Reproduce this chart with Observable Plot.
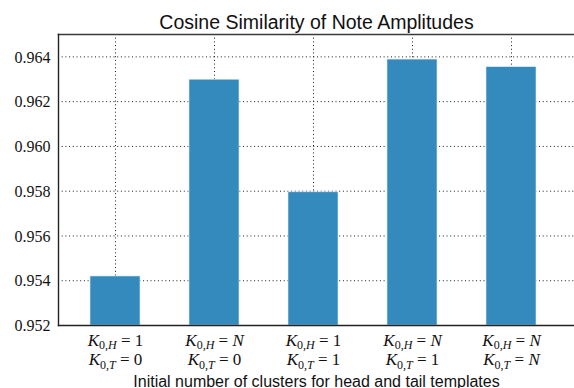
<!DOCTYPE html>
<html>
<head>
<meta charset="utf-8">
<script src="https://cdn.jsdelivr.net/npm/d3@7"></script>
<script src="https://cdn.jsdelivr.net/npm/@observablehq/plot@0.6"></script>
<style>
  html, body { margin: 0; padding: 0; background: #fff; overflow: hidden; }
  #chart svg { display: block; }
  #chart g.yticks text, #chart g.xticks text { font-family: "Liberation Serif", "Times New Roman", serif !important; }
  #chart g.sanstext text { font-family: "Liberation Sans", Arial, Helvetica, sans-serif !important; }
</style>
</head>
<body>
<div id="chart"></div>
<script>
const categories = ["H1T0", "HNT0", "H1T1", "HNT1", "HNTN"];
const headK = ["1", "N", "1", "N", "N"];
const tailK = ["0", "0", "1", "1", "N"];
const values = [0.95419, 0.96298, 0.95795, 0.96388, 0.96354];
const yTicks = [0.952, 0.954, 0.956, 0.958, 0.960, 0.962, 0.964];
const yDomain = [0.952, 0.965];
const title = "Cosine Similarity of Note Amplitudes";
const xLabel = "Initial number of clusters for head and tail templates";

const data = categories.map((c, i) => ({cat: c, value: values[i]}));

const serif = "Liberation Serif, Times New Roman, serif";
const sans = "Liberation Sans, Arial, Helvetica, sans-serif";
const gridStyle = {stroke: "#000", strokeOpacity: 1, strokeWidth: 0.9, strokeDasharray: "1,2.7"};

const chart = Plot.plot({
  width: 574,
  height: 388,
  marginTop: 34,
  marginBottom: 63,
  marginLeft: 58,
  marginRight: 0,
  style: {background: "#fff"},
  x: {domain: categories, range: [63.75, 561.25], paddingInner: 0.5, paddingOuter: 0.25, align: 0.5, axis: null},
  y: {domain: yDomain, axis: null},
  marks: [
    Plot.gridY(yTicks, gridStyle),
    Plot.gridX(categories, gridStyle),
    Plot.barY(data, {x: "cat", y1: yDomain[0], y2: "value", fill: "#348ABD", stroke: "#dce9f4", strokeWidth: 0.6}),
    Plot.text(yTicks, {y: d => d, text: d3.format(".3f"), frameAnchor: "left", textAnchor: "end", dx: -8, dy: 0.5, fontSize: 16, fontFamily: serif, fill: "#111", className: "yticks"}),
    Plot.frame({anchor: "top", stroke: "#3a3a3a", strokeWidth: 1.6}),
    Plot.frame({anchor: "bottom", stroke: "#222", strokeWidth: 1.4}),
    Plot.frame({anchor: "left", stroke: "#222", strokeWidth: 1.4}),
    Plot.text(categories, {x: d => d, text: d => d, frameAnchor: "bottom", lineAnchor: "bottom", fontSize: 17, fontFamily: serif, fill: "#111", className: "xticks"}),
    Plot.text([title], {frameAnchor: "top", lineAnchor: "bottom", dy: -6, fontSize: 19.5, fontFamily: sans, fill: "#111", className: "sanstext"}),
    Plot.text([xLabel], {frameAnchor: "bottom", lineAnchor: "bottom", dy: 61, fontSize: 16, fontFamily: sans, fill: "#111", className: "sanstext"})
  ]
});

document.getElementById("chart").appendChild(chart);

// Typeset the tick labels as K_{0,H} = v / K_{0,T} = v
d3.select(chart).selectAll("g.xticks text").each(function() {
  const el = this;
  const key = el.textContent;
  const i = categories.indexOf(key);
  if (i < 0) return;
  const x0 = el.getAttribute("x") || 0;
  const t = d3.select(el);
  t.text(null);
  const addLine = (sub, val, dy) => {
    t.append("tspan").attr("x", x0).attr("dy", dy).attr("font-style", "italic").text("K");
    t.append("tspan").attr("dy", 3.5).attr("font-size", 12).text("0,");
    t.append("tspan").attr("font-size", 12).attr("font-style", "italic").text(sub);
    t.append("tspan").attr("dy", -3.5).text(" = ");
    t.append("tspan").attr("font-style", val === "N" ? "italic" : "normal").text(val);
  };
  addLine("H", headK[i], 20);
  addLine("T", tailK[i], 19.5);
});
</script>
</body>
</html>
